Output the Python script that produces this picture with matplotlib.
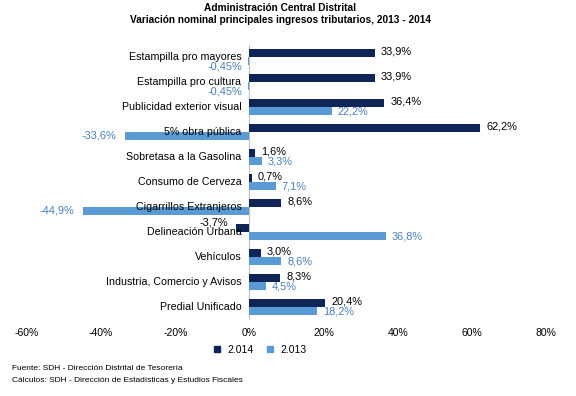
import matplotlib
matplotlib.use("Agg")
import matplotlib.pyplot as plt
from matplotlib.lines import Line2D
from matplotlib.transforms import offset_copy
import numpy as np

plt.rcParams['font.family'] = ['Liberation Sans', 'DejaVu Sans']

categories = ["Estampilla pro mayores", "Estampilla pro cultura", "Publicidad exterior visual",
              "5% obra pública", "Sobretasa a la Gasolina", "Consumo de Cerveza",
              "Cigarrillos Extranjeros", "Delineación Urbana", "Vehículos",
              "Industria, Comercio y Avisos", "Predial Unificado"]
v2014 = [33.9, 33.9, 36.4, 62.2, 1.6, 0.7, 8.6, -3.7, 3.0, 8.3, 20.4]
v2013 = [-0.45, -0.45, 22.2, -33.6, 3.3, 7.1, -44.9, 36.8, 8.6, 4.5, 18.2]
lab2014 = ["33,9%", "33,9%", "36,4%", "62,2%", "1,6%", "0,7%", "8,6%", "-3,7%", "3,0%", "8,3%", "20,4%"]
lab2013 = ["-0,45%", "-0,45%", "22,2%", "-33,6%", "3,3%", "7,1%", "-44,9%", "36,8%", "8,6%", "4,5%", "18,2%"]
xticks = [-60, -40, -20, 0, 20, 40, 60, 80]

c14 = "#0F2557"
c13 = "#5B9BD5"
c13txt = "#4A7EBB"

W, H = 576, 396
fig = plt.figure(figsize=(W / 100, H / 100), dpi=100)
left, right, top, bottom = 27, 546, 44.5, 319.5
ax = fig.add_axes([left / W, 1 - bottom / H, (right - left) / W, (bottom - top) / H])

y = np.arange(len(categories))
bh = 0.31
ax.barh(y - 0.155, v2014, height=bh, color=c14, zorder=2)
ax.barh(y + 0.155, v2013, height=bh, color=c13, zorder=2)
ax.set_xlim(-60, 80)
ax.set_ylim(len(categories) - 0.5, -0.5)
ax.axvline(0, color="#BFBFBF", lw=0.8, zorder=1)

for s in ax.spines.values():
    s.set_visible(False)
ax.set_yticks([])
ax.set_xticks(xticks)
ax.set_xticklabels([f"{t}%" for t in xticks], fontsize=7.5)
ax.tick_params(axis="x", length=0, pad=6)

# category labels at x = 0
for i, c in enumerate(categories):
    tr = offset_copy(ax.transData, fig=fig, x=-8, y=0, units="dots")
    ax.text(0, i, c, transform=tr, ha="right", va="center", fontsize=7.7, zorder=5)

fs = 7.9
# data labels
for i, (v, l) in enumerate(zip(v2014, lab2014)):
    if v >= 0:
        tr = offset_copy(ax.transData, fig=fig, x=6, y=2, units="dots")
        ax.text(v, i - 0.155, l, transform=tr, ha="left", va="center", fontsize=fs, color="black", zorder=5)
    else:
        tr = offset_copy(ax.transData, fig=fig, x=-8, y=6, units="dots")
        ax.text(v, i - 0.155, l, transform=tr, ha="right", va="center", fontsize=fs, color="black", zorder=5)

for i, (v, l) in enumerate(zip(v2013, lab2013)):
    if v >= 0:
        tr = offset_copy(ax.transData, fig=fig, x=6, y=-1, units="dots")
        ax.text(v, i + 0.155, l, transform=tr, ha="left", va="center", fontsize=fs, color=c13txt, zorder=5)
    elif v > -1:
        tr = offset_copy(ax.transData, fig=fig, x=-5, y=-6, units="dots")
        ax.text(v, i + 0.155, l, transform=tr, ha="right", va="center", fontsize=fs, color=c13txt, zorder=5)
    else:
        tr = offset_copy(ax.transData, fig=fig, x=-9, y=0, units="dots")
        ax.text(v, i + 0.155, l, transform=tr, ha="right", va="center", fontsize=fs, color=c13txt, zorder=5)

# titles
fig.text(280 / W, 1 - 8 / H, "Administración Central Distrital", ha="center", va="center",
         fontsize=7.3, fontweight="bold")
fig.text(280 / W, 1 - 20 / H, "Variación nominal principales ingresos tributarios, 2013 - 2014",
         ha="center", va="center", fontsize=7.3, fontweight="bold")

# legend
handles = [Line2D([], [], marker="s", ls="", color=c14, markersize=4),
           Line2D([], [], marker="s", ls="", color=c13, markersize=4)]
fig.legend(handles, ["2.014", "2.013"], loc="center", bbox_to_anchor=(260 / W, 1 - 350 / H),
           ncol=2, frameon=False, fontsize=7.5, handlelength=0.8, handletextpad=0.6,
           columnspacing=1.2)

fig.text(12 / W, 1 - 369 / H, "Fuente: SDH - Dirección Distrital de Tesorería", ha="left",
         va="center", fontsize=6.0)
fig.text(12 / W, 1 - 381 / H, "Cálculos: SDH - Dirección de Estadísticas y Estudios Fiscales",
         ha="left", va="center", fontsize=6.0)

fig.savefig("out.png", dpi=100, facecolor="white")
